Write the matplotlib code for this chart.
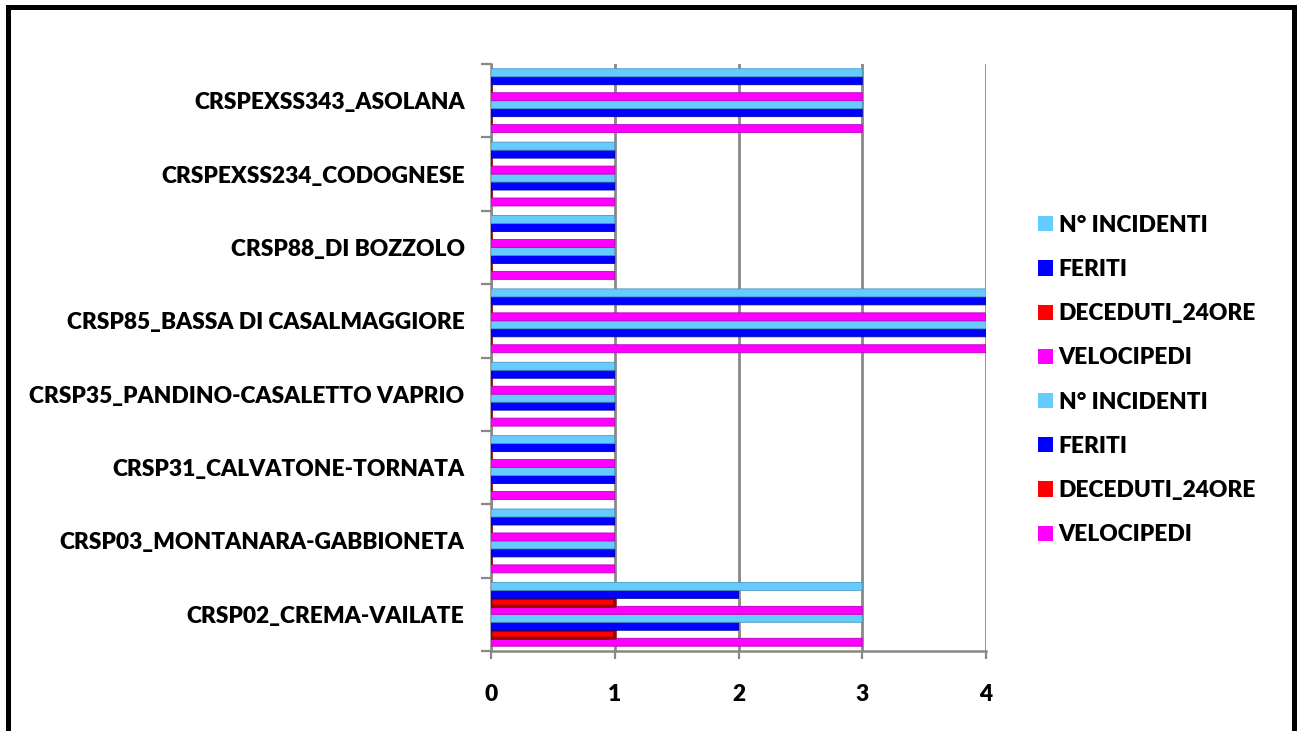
import matplotlib
matplotlib.use("Agg")
import matplotlib.pyplot as plt
from matplotlib.patches import Rectangle, Patch
import numpy as np

categories = ["CRSP02_CREMA-VAILATE", "CRSP03_MONTANARA-GABBIONETA",
              "CRSP31_CALVATONE-TORNATA", "CRSP35_PANDINO-CASALETTO VAPRIO",
              "CRSP85_BASSA DI CASALMAGGIORE", "CRSP88_DI BOZZOLO",
              "CRSPEXSS234_CODOGNESE", "CRSPEXSS343_ASOLANA"]
velocipedi = [3, 1, 1, 1, 4, 1, 1, 3]
deceduti = [1, 0, 0, 0, 0, 0, 0, 0]
feriti = [2, 1, 1, 1, 4, 1, 1, 3]
incidenti = [3, 1, 1, 1, 4, 1, 1, 3]

series_names = ["VELOCIPEDI", "DECEDUTI_24ORE", "FERITI", "N° INCIDENTI"] * 2
series_vals = [velocipedi, deceduti, feriti, incidenti] * 2
colors = ["#FF00FF", "#FF0000", "#0000FF", "#66CCFF"] * 2
edges = ["#C000C0", "#A00000", "#0000A0", "#4A98BE"] * 2

plt.rcParams['font.family'] = ['Lato', 'DejaVu Sans']
fig = plt.figure(figsize=(12.97, 7.31), dpi=100)
ax = fig.add_axes([491/1297, 1-651/731, (986-491)/1297, (651-64)/731])

n = len(series_names)
group = 0.87
h = group / n
y = np.arange(len(categories))
for i, (name, vals) in enumerate(zip(series_names, series_vals)):
    pos = y - group/2 + h*(i+0.5)
    lw = 2.5 if name == "DECEDUTI_24ORE" else 0.6
    ax.barh(pos, vals, height=h, color=colors[i], edgecolor=edges[i],
            linewidth=lw, zorder=3, snap=False)

ax.set_xlim(0, 4)
ax.set_ylim(-0.5, len(categories)-0.5)
ax.set_xticks([0, 1, 2, 3, 4])
ax.set_yticks(y)
ax.set_yticklabels(categories)
ax.set_yticks(np.arange(-0.5, len(categories)), minor=True)
gray = "#888888"
ax.tick_params(axis='y', which='major', length=0, pad=19, labelsize=16.4)
ax.tick_params(axis='y', which='minor', length=7, width=1.6, color=gray)
ax.tick_params(axis='x', which='major', length=6, width=1.6, color=gray, pad=18, labelsize=16.4)
for lab in ax.get_xticklabels() + ax.get_yticklabels():
    lab.set_fontweight('heavy')
ax.grid(axis='x', color=gray, linewidth=2.0, zorder=0)
ax.set_axisbelow(True)
for s in ['top', 'right']:
    ax.spines[s].set_visible(False)
for s in ['left', 'bottom']:
    ax.spines[s].set_color(gray)
    ax.spines[s].set_linewidth(1.8)

handles = [Patch(facecolor=colors[i], edgecolor='none', label=series_names[i]) for i in range(n)][::-1]
leg = fig.legend(handles=handles, loc='center left', bbox_to_anchor=(1029/1297, 1-380/731),
                 frameon=False, prop={'weight': 'heavy', 'size': 16.4},
                 handlelength=0.65, handleheight=0.65, handletextpad=0.25,
                 labelspacing=1.02, borderaxespad=0)

fig.add_artist(Rectangle((8/1297, -0.1), (1293.5-8)/1297, 1.1-7/731,
                         transform=fig.transFigure, fill=False,
                         edgecolor='black', linewidth=3.6))
fig.savefig("out.png", dpi=100)
